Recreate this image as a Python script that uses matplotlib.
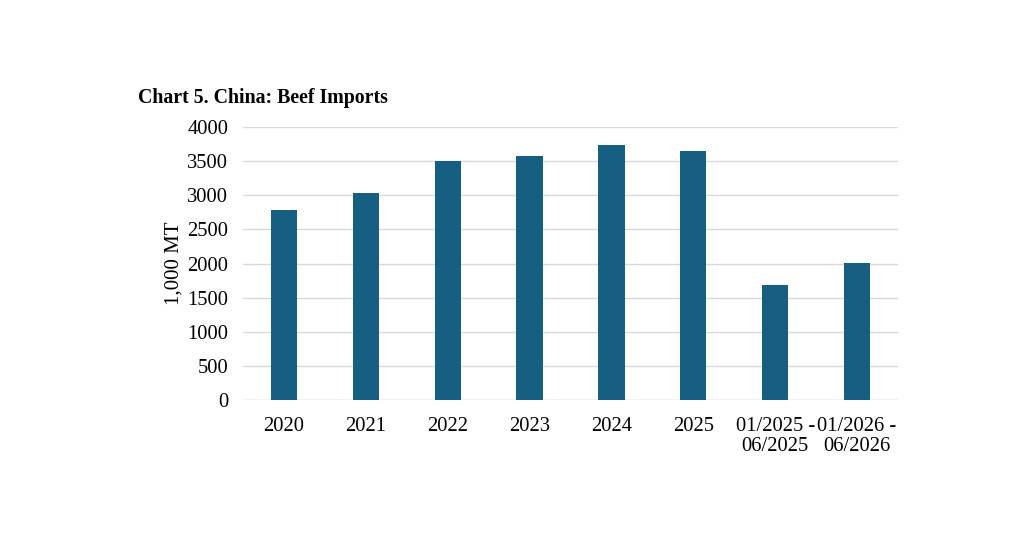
import matplotlib
matplotlib.use("Agg")
import matplotlib.pyplot as plt

categories = ["2020", "2021", "2022", "2023", "2024", "2025",
              "01/2025 -\n06/2025", "01/2026 -\n06/2026"]
imports = [2785, 3030, 3500, 3575, 3740, 3650, 1685, 2003]

plt.rcParams["font.family"] = ["Liberation Serif", "DejaVu Serif"]

fig = plt.figure(figsize=(10.24, 5.35), dpi=100)
ax = fig.add_axes([0.2373, 0.2523, 0.6397, 0.5103])

xs = range(len(categories))
ax.bar(xs, imports, width=0.32, color="#165f82", zorder=3)

ax.set_xlim(-0.5, len(categories) - 0.5)
ax.set_ylim(0, 4000)
ax.set_yticks(range(0, 4001, 500))
ax.set_xticks(list(xs))
ax.set_xticklabels(categories, fontsize=14.8, linespacing=1.07)
ax.tick_params(axis="y", labelsize=14.8, length=0, pad=10.5)
ax.tick_params(axis="x", length=0, pad=12.5)
ax.yaxis.grid(True, color="#d9d9d9", linewidth=1, zorder=0)
for s in ax.spines.values():
    s.set_visible(False)
ax.axhline(0, color="#d9d9d9", linewidth=1, zorder=2)

ax.set_ylabel("1,000 MT", fontsize=15, labelpad=2.5)
fig.text(138 / 1024, 1 - 98 / 535, "Chart 5. China: Beef Imports",
         fontsize=14.3, fontweight="bold", ha="left", va="center")

fig.savefig("out.png", dpi=100)
